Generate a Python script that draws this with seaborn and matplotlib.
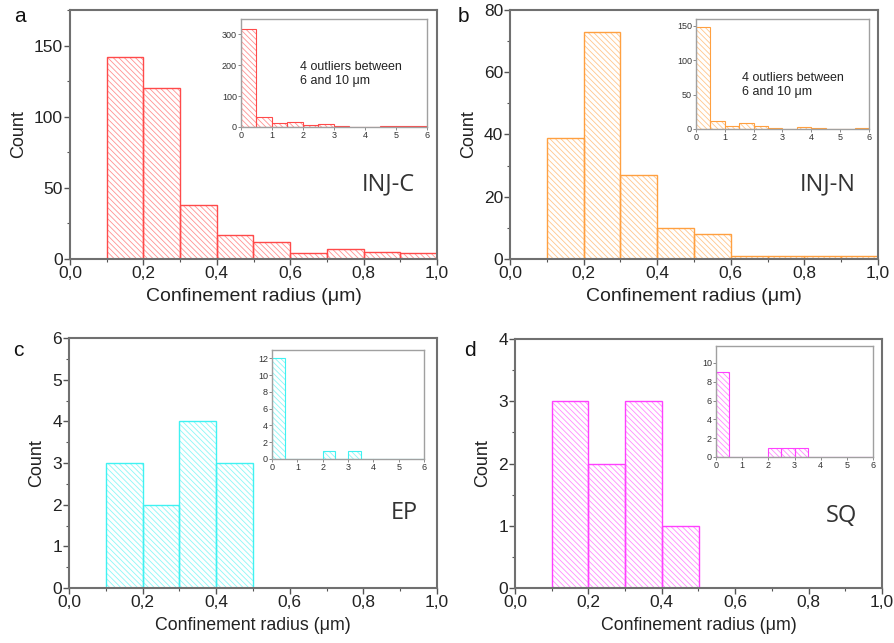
import numpy as np
import pandas as pd
import matplotlib
matplotlib.use("Agg")
import matplotlib.pyplot as plt
from matplotlib.colors import to_rgb
from matplotlib.ticker import FuncFormatter, MultipleLocator
import seaborn as sns

sns.set_style("ticks")
plt.rcParams['font.family'] = ['Liberation Sans', 'DejaVu Sans']
plt.rcParams['hatch.linewidth'] = 0.6

# main histograms: bins of 0.1 um from 0.1 to 1.0
main_edges = [0.1, 0.2, 0.3, 0.4, 0.5, 0.6, 0.7, 0.8, 0.9, 1.0]
injc_counts = [142, 120, 38, 17, 12, 4, 7, 5, 4]
injn_counts = [39, 73, 27, 10, 8, 1, 1, 1, 1]
ep_counts = [3, 2, 4, 3, 0, 0, 0, 0, 0]
sq_counts = [3, 2, 3, 1, 0, 0, 0, 0, 0]

# insets: bins of 0.5 um from 0 to 6
inset_edges = [0, 0.5, 1, 1.5, 2, 2.5, 3, 3.5, 4, 4.5, 5, 5.5, 6]
injc_inset = [316, 31, 12, 16, 7, 9, 3, 0, 1, 2, 2, 3]
injn_inset = [148, 12, 4, 9, 4, 1, 0, 3, 1, 0, 0, 1]
ep_inset = [12, 0, 0, 0, 1, 0, 1, 0, 0, 0, 0, 0]
sq_inset = [9, 0, 0, 0, 1, 1, 1, 0, 0, 0, 0, 0]

names = ["INJ-C", "INJ-N", "EP", "SQ"]
letters = ["a", "b", "c", "d"]
colors = ["#ff4a4a", "#ffa040", "#3ff2f2", "#ff40ff"]
main_data = [injc_counts, injn_counts, ep_counts, sq_counts]
inset_data = [injc_inset, injn_inset, ep_inset, sq_inset]
main_ylim = [175, 80, 6, 4]
main_ystep = [50, 20, 1, 1]
inset_ylim = [350, 160, 13, 11.8]
inset_ystep = [100, 50, 2, 2]
xlabel_size = [14, 14, 12.8, 12.8]

W, H = 895, 643
main_pos = [(70, 437, 10, 259), (510, 878, 10, 259),
            (69, 437, 338, 588), (515, 882, 339, 588)]
inset_pos = [(241, 427, 19, 127), (696, 869, 19, 129),
             (272, 424, 350, 459), (716, 873, 346, 457)]
letter_pos = [(20, 17), (463, 17), (18, 350), (470, 350)]
name_pos = [(0.867, 0.3), (0.864, 0.3), (0.91, 0.3), (0.89, 0.29)]
note_pos = [(0.317, 0.49), (0.266, 0.40)]

def rect(p):
    l, r, t, b = p
    return [l / W, 1 - b / H, (r - l) / W, (b - t) / H]

def comma(v, pos):
    return f"{v:.1f}".replace(".", ",")

def tint(c, f):
    r, g, b = to_rgb(c)
    return (1 - f * (1 - r), 1 - f * (1 - g), 1 - f * (1 - b))

def hist(ax, edges, counts, color, lw):
    centers = [(edges[i] + edges[i + 1]) / 2 for i in range(len(counts))]
    df = pd.DataFrame({"x": centers, "w": counts})
    # hatching in a lighter shade, then the outline on top
    sns.histplot(data=df, x="x", weights="w", bins=edges, ax=ax,
                 facecolor="white", edgecolor=tint(color, 0.6), linewidth=0,
                 hatch="\\\\\\\\\\\\", alpha=1)
    sns.histplot(data=df, x="x", weights="w", bins=edges, ax=ax,
                 fill=False, color=color, linewidth=lw)

fig = plt.figure(figsize=(8.95, 6.43), dpi=100)

for i in range(4):
    ax = fig.add_axes(rect(main_pos[i]))
    hist(ax, main_edges, main_data[i], colors[i], 1.0)
    ax.set_xlim(0, 1.0)
    ax.set_ylim(0, main_ylim[i])
    ax.xaxis.set_major_locator(MultipleLocator(0.2))
    ax.xaxis.set_minor_locator(MultipleLocator(0.1))
    ax.xaxis.set_major_formatter(FuncFormatter(comma))
    ax.yaxis.set_major_locator(MultipleLocator(main_ystep[i]))
    ax.yaxis.set_minor_locator(MultipleLocator(main_ystep[i] / 2))
    ax.tick_params(which="major", length=4, width=1, color="#555555",
                   labelsize=12.5, labelcolor="#222222", pad=1)
    ax.tick_params(which="minor", length=2.5, width=0.8, color="#555555")
    for s in ax.spines.values():
        s.set_color("#707070")
        s.set_linewidth(1.5)
    ax.set_xlabel("Confinement radius (μm)", fontsize=xlabel_size[i],
                  color="#222222", labelpad=5)
    ax.set_ylabel("Count", fontsize=13, color="#222222", labelpad=5)
    ax.text(name_pos[i][0], name_pos[i][1], names[i], transform=ax.transAxes,
            ha="center", va="center", fontsize=17, color="#333333",
            family=["Open Sans", "DejaVu Sans"])
    fig.text(letter_pos[i][0] / W, 1 - letter_pos[i][1] / H, letters[i],
             ha="center", va="center", fontsize=15, color="#111111")

    ins = fig.add_axes(rect(inset_pos[i]))
    hist(ins, inset_edges, inset_data[i], colors[i], 0.8)
    ins.set_xlim(0, 6)
    ins.set_ylim(0, inset_ylim[i])
    ins.xaxis.set_major_locator(MultipleLocator(1))
    ins.yaxis.set_major_locator(MultipleLocator(inset_ystep[i]))
    ins.set_xlabel("")
    ins.set_ylabel("")
    ins.tick_params(which="major", length=2, width=0.6, color="#777777",
                    labelsize=6.5, labelcolor="#333333", pad=1)
    for s in ins.spines.values():
        s.set_color("#a0a0a0")
        s.set_linewidth(1.0)
    if i < 2:
        ins.text(note_pos[i][0], note_pos[i][1], "4 outliers between\n6 and 10 μm",
                 transform=ins.transAxes, ha="left", va="center",
                 fontsize=9, color="#222222", linespacing=1.3)

fig.savefig("out.png", dpi=100)
